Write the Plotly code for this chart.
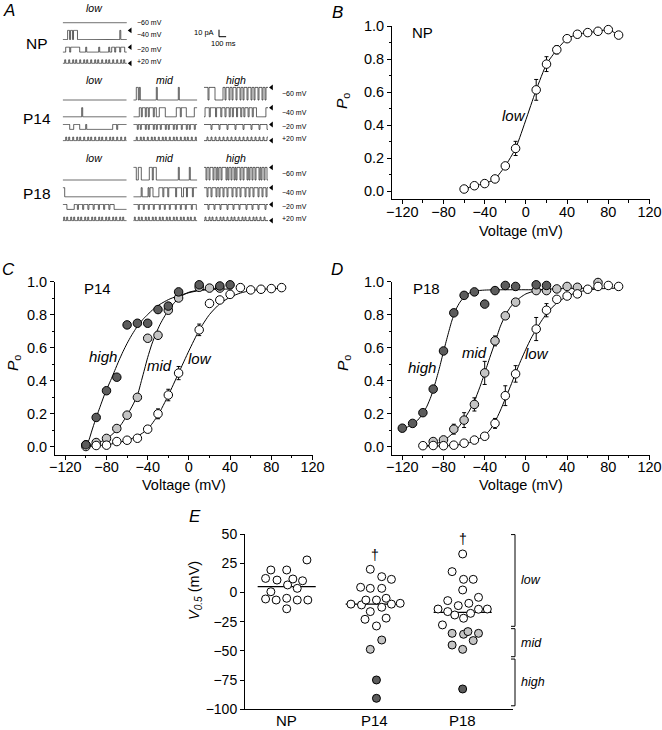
import plotly.graph_objects as go

W, H = 662, 730
FONT = "Liberation Sans, Arial, Helvetica, sans-serif"
INK = "#000000"
DARK_FILL = "#5c5c5c"
LIGHT_FILL = "#c4c4c4"
OPEN_FILL = "#ffffff"

# ================= DATA =================
# ---- Panel B : NP (low) ----
b_volt = [-60, -50, -40, -30, -20, -10, 10, 20, 30, 40, 50, 60, 70, 80, 90]
b_low = [0.012, 0.032, 0.045, 0.073, 0.152, 0.258, 0.613, 0.769, 0.856, 0.923, 0.950, 0.960, 0.968, 0.978, 0.945]
b_low_err = [0, 0, 0, 0, 0.015, 0.043, 0.063, 0.045, 0.025, 0, 0, 0, 0, 0, 0]

# ---- Panel C : P14 ----
c_high_volt = [-100, -90, -80, -70, -60, -50, -40, -30, -20, -10, 10, 30, 40]
c_high = [0.010, 0.176, 0.338, 0.420, 0.737, 0.747, 0.747, 0.830, 0.851, 0.937, 0.980, 0.973, 0.980]
c_mid_volt = [-100, -90, -80, -70, -60, -50, -40, -30, -20, -10, 10, 20, 30]
c_mid = [0.010, 0.024, 0.049, 0.109, 0.190, 0.298, 0.656, 0.674, 0.826, 0.900, 0.965, 0.960, 0.960]
c_low_volt = [-100, -90, -80, -70, -60, -50, -40, -30, -20, -10, 10, 20, 30, 40, 50, 60, 70, 80, 90]
c_low = [0.000, 0.006, 0.008, 0.030, 0.038, 0.050, 0.105, 0.198, 0.312, 0.445, 0.707, 0.867, 0.888, 0.922, 0.963, 0.949, 0.953, 0.957, 0.963]
c_low_err = [0, 0, 0, 0, 0, 0, 0, 0.030, 0.035, 0.040, 0.035, 0.015, 0, 0, 0, 0, 0, 0, 0]

c_fit_high_volt = [-100, -97, -94, -91, -86, -81, -76, -72, -68, -64, -60, -56, -52, -48, -44, -40, -34, -28, -20, -12, 0, 10, 25, 42]
c_fit_high = [0.0, 0.04, 0.10, 0.157, 0.245, 0.33, 0.40, 0.46, 0.52, 0.575, 0.625, 0.67, 0.71, 0.745, 0.775, 0.80, 0.835, 0.862, 0.89, 0.91, 0.932, 0.945, 0.952, 0.955]
c_fit_mid_volt = [-100, -90, -80, -70, -65, -60, -55, -50, -46, -43, -40, -36, -32, -28, -24, -20, -15, -9, 0, 10, 20, 30]
c_fit_mid = [0.0, 0.018, 0.045, 0.10, 0.14, 0.19, 0.245, 0.31, 0.40, 0.47, 0.54, 0.62, 0.685, 0.74, 0.785, 0.825, 0.865, 0.905, 0.935, 0.948, 0.955, 0.957]
c_fit_low_volt = [-100, -90, -80, -70, -60, -50, -40, -30, -20, -10, 0, 10, 20, 30, 40, 50, 60, 70, 80, 90]
c_fit_low = [0.0, 0.004, 0.01, 0.022, 0.038, 0.062, 0.105, 0.19, 0.31, 0.445, 0.58, 0.705, 0.80, 0.865, 0.905, 0.93, 0.945, 0.952, 0.956, 0.958]

# ---- Panel D : P18 ----
d_high_volt = [-120, -110, -100, -90, -80, -70, -60, -50, -40, -30, -20, -10, 10, 20]
d_high = [0.111, 0.140, 0.205, 0.348, 0.579, 0.810, 0.916, 0.937, 0.863, 0.945, 0.976, 0.970, 0.980, 0.976]
d_mid_volt = [-90, -80, -70, -60, -50, -40, -30, -20, -10, 10, 20, 30, 40, 50, 70]
d_mid = [0.030, 0.040, 0.105, 0.160, 0.255, 0.446, 0.640, 0.792, 0.875, 0.945, 0.945, 0.955, 0.970, 0.965, 0.994]
d_mid_err = [0, 0, 0.030, 0.045, 0.040, 0.070, 0.030, 0, 0, 0, 0, 0, 0, 0, 0]
d_low_volt = [-100, -90, -80, -70, -60, -50, -40, -30, -20, -10, 10, 20, 30, 40, 50, 60, 70, 80, 90]
d_low = [0.005, 0.006, 0.005, 0.008, 0.020, 0.039, 0.062, 0.140, 0.308, 0.440, 0.712, 0.826, 0.892, 0.912, 0.925, 0.953, 0.970, 0.976, 0.970]
d_low_err = [0, 0, 0, 0, 0, 0, 0, 0.030, 0.060, 0.050, 0.070, 0.040, 0.010, 0, 0, 0, 0, 0, 0]

d_fit_high_volt = [-120, -115, -110, -105, -100, -96, -92, -88, -84, -80, -76, -72, -68, -64, -60, -55, -50, -40, -20, 0, 20]
d_fit_high = [0.105, 0.118, 0.135, 0.16, 0.20, 0.245, 0.305, 0.385, 0.475, 0.575, 0.67, 0.76, 0.83, 0.875, 0.905, 0.93, 0.942, 0.948, 0.95, 0.95, 0.95]
d_fit_mid_volt = [-100, -90, -80, -70, -65, -60, -55, -50, -45, -40, -35, -30, -25, -20, -15, -10, -5, 0, 10, 20, 40, 70]
d_fit_mid = [0.0, 0.012, 0.035, 0.085, 0.12, 0.165, 0.215, 0.275, 0.355, 0.445, 0.54, 0.63, 0.725, 0.795, 0.845, 0.88, 0.905, 0.925, 0.945, 0.953, 0.958, 0.96]
d_fit_low_volt = [-100, -80, -70, -60, -50, -40, -35, -30, -25, -20, -15, -10, -5, 0, 5, 10, 15, 20, 30, 40, 50, 60, 70, 80, 90]
d_fit_low = [0.003, 0.004, 0.007, 0.015, 0.033, 0.068, 0.10, 0.15, 0.215, 0.29, 0.365, 0.445, 0.52, 0.59, 0.655, 0.71, 0.76, 0.805, 0.87, 0.91, 0.935, 0.948, 0.955, 0.958, 0.96]

# ---- Panel E : V0.5 scatter ----
e_groups = ["NP", "P14", "P18"]
e_np_low = [27.8, 19.2, 19.2, 12.0, 10.6, 11.5, 10.0, 0.6, 6.4, 3.5, -5.6, -6.5, -5.0, -6.5, -6.5, -14.0]
e_np_low_dx = [0.23, -0.18, 0.0, -0.24, -0.11, 0.07, 0.18, -0.18, 0.01, 0.12, -0.24, -0.12, 0.0, 0.12, 0.24, 0.0]
e_p14_low = [19.8, 13.5, 11.2, 4.4, 3.5, 3.5, -10.0, -10.7, -6.5, -6.5, -5.0, -12.7, -10.0, -9.3, -16.4, -23.0, -22.0, -28.7]
e_p14_low_dx = [-0.05, 0.08, 0.19, -0.16, -0.05, 0.08, -0.27, -0.15, -0.10, 0.02, 0.13, 0.08, 0.19, 0.29, -0.05, -0.11, 0.13, 0.02]
e_p14_mid = [-40.7, -48.7]
e_p14_mid_dx = [0.08, -0.05]
e_p14_high = [-74.9, -90.6]
e_p14_high_dx = [0.02, 0.02]
e_p18_low = [32.9, 17.8, 11.2, 11.2, 2.1, -7.0, -9.3, -4.2, -11.3, -14.2, -16.4, -19.3, -22.1, -17.9, -14.4, -14.2, -27.8]
e_p18_low_dx = [0.0, -0.12, 0.01, 0.12, 0.0, -0.17, 0.07, 0.18, -0.05, -0.28, -0.17, -0.09, 0.01, 0.09, 0.18, 0.28, -0.23]
e_p18_mid = [-35.0, -35.8, -33.5, -35.0, -41.2, -45.0, -48.7]
e_p18_mid_dx = [-0.12, 0.01, 0.06, 0.18, 0.12, -0.12, 0.0]
e_p18_high = [-82.6]
e_p18_high_dx = [0.0]
e_means = [5.0, -10.0, -17.0]
e_dagger_y = [None, 32.0, 45.7]
e_class_ranges = {"low": (49.5, -29.0), "mid": (-31.0, -55.0), "high": (-57.0, -97.0)}

# ---- Panel A : single-channel records (1 = open, 0 = closed; one char per time bin) ----
a_voltages = ["\u221260 mV", "\u221240 mV", "\u221220 mV", "+20 mV"]
a_row_offset_pA = [0, -24, -42, -53]
a_unitary_pA = [18, 13, 7, -5]
a_trace_ms = 900
a_scale_pA = 10
a_scale_ms = 100

np_low = [
    "0000000000000000000000000000000000000000000000000000000000000000",
    "00000110110111100000000000000000000000000000000000000000001000000",
    "0001111011111111100000010000000000001000000000100111011110111100",
    "1101110111011011101110110111011101101110111011011101110111011011",
]
p14_low = [
    "0000000000000000000000000000000000000000000000000000000000000000",
    "0000000000000000000100000000000000000000000000000000000000000000",
    "1111111000011111100000010000000000000000000000000011110111111111",
    "1110110111011101101110111011011101110110111011101101110111011101",
]
p14_mid = [
    "0001101000000000000000010000000000000000000001000000000000000000",
    "0000001101110110111101100011111100000000000111101111100000000111",
    "1111011011110110111101101110111101101111011011110111101101111011",
    "1110111011011101110110111011101101110111011011101110110111011101",
]
p14_high = [
    "1111011111100000000110111011011101110110111011101101110111011011",
    "0111101111101111011101110110111011101101110111011100000000011",
    "1111111011111110111111101111111011111110111111101111111011111110",
    "1110111011101110111011101110111011101110111011101110111011101110",
]
p18_low = [
    "0000000000000000000000000000000000000000000000000000000000000000",
    "1100000000000000000000000000000000000000000000000000000000000000",
    "1111000000011101111011110111101111011110111101111000000000000",
    "1011011101101110110111011011101101110110111011011101101110110111",
]
p18_mid = [
    "1110011100000000111011100000000000000000000001000000000010000000",
    "00000000100000010111000000111101111011111110111110011101111101111",
    "1111101111011110111101111101111011110111110111101111011111011110",
    "1011101101110110111011011101101110110111011011101101110110111011",
]
p18_high = [
    "1101101110110101101111010110110101110110111010110110111010110110",
    "1110111011110110111011101111011101110111101110111011110111011101",
    "1111011111011111011111101111101111101111110111110111110111111011",
    "1011101101110111011011101110110111011101101110111011011101110111",
]

# ================= LAYOUT HELPERS =================
fig = go.Figure()
lay = dict(template="none", width=W, height=H, autosize=False, margin=dict(l=0, r=0, t=0, b=0, pad=0),
           paper_bgcolor="white", plot_bgcolor="rgba(0,0,0,0)", showlegend=False,
           font=dict(family=FONT, color=INK, size=12))
annotations = []
shapes = []


def pxx(x):
    return x / W


def pxy(y):
    return 1 - y / H


def label(x, y, s, size, xanchor="center", yanchor="middle", angle=0, xref="paper", yref="paper"):
    annotations.append(dict(x=x, y=y, xref=xref, yref=yref, text=s, showarrow=False,
                            font=dict(size=size, family=FONT, color=INK),
                            xanchor=xanchor, yanchor=yanchor, textangle=angle))


TICKF = dict(size=14.5, family=FONT, color=INK)


def iv_axes(n, left_px, top_px):
    s = "" if n == 1 else str(n)
    lay["xaxis" + s] = dict(
        domain=[pxx(left_px), pxx(left_px + 257.5)], anchor="y" + s, range=[-130, 120],
        automargin=False,
        tickmode="array", tickvals=[-120, -80, -40, 0, 40, 80, 120],
        ticktext=["\u2212120", "\u221280", "\u221240", "0", "40", "80", "120"],
        ticks="outside", ticklen=4, tickwidth=1, tickcolor=INK, ticklabelstandoff=-5,
        showline=True, linecolor=INK, linewidth=1, showgrid=False, zeroline=False,
        tickfont=TICKF,
        minor=dict(ticks="outside", ticklen=2.5, tickwidth=1, tickcolor=INK,
                   tickmode="array", tickvals=[-100, -60, -20, 20, 60, 100], showgrid=False))
    lay["yaxis" + s] = dict(
        domain=[pxy(top_px + 173.25), pxy(top_px)], anchor="x" + s, range=[-0.05, 1.0],
        automargin=False,
        tickmode="array", tickvals=[0, 0.2, 0.4, 0.6, 0.8, 1.0],
        ticktext=["0.0", "0.2", "0.4", "0.6", "0.8", "1.0"],
        ticks="outside", ticklen=4, tickwidth=1, tickcolor=INK,
        showline=True, linecolor=INK, linewidth=1, showgrid=False, zeroline=False,
        tickfont=TICKF,
        minor=dict(ticks="outside", ticklen=2.5, tickwidth=1, tickcolor=INK,
                   tickmode="array", tickvals=[0.1, 0.3, 0.5, 0.7, 0.9], showgrid=False))
    return ("x" + s, "y" + s)


def add_curve(ax, xs, ys):
    fig.add_trace(go.Scatter(x=xs, y=ys, mode="lines", xaxis=ax[0], yaxis=ax[1],
                             line=dict(color=INK, width=1, shape="spline", smoothing=0.6),
                             hoverinfo="skip"))


def add_points(ax, xs, ys, fill, err=None, size=8.5):
    kw = {}
    if err is not None:
        kw["error_y"] = dict(type="data", array=err, visible=True, color=INK, thickness=1, width=2)
    fig.add_trace(go.Scatter(x=xs, y=ys, mode="markers", xaxis=ax[0], yaxis=ax[1],
                             marker=dict(size=size, color=fill, line=dict(color=INK, width=1)),
                             cliponaxis=False, **kw))


# ================= PANEL B =================
axB = iv_axes(1, 392, 26)
fig.add_trace(go.Scatter(x=b_volt, y=b_low, mode="lines+markers", xaxis=axB[0], yaxis=axB[1],
                         line=dict(color=INK, width=1, shape="spline", smoothing=0.5),
                         marker=dict(size=8.5, color=OPEN_FILL, line=dict(color=INK, width=1)),
                         error_y=dict(type="data", array=b_low_err, visible=True, color=INK, thickness=1, width=2),
                         cliponaxis=False))
label(-113, 0.96, "NP", 15, xanchor="left", xref=axB[0], yref=axB[1])
label(-12, 0.46, "<i>low</i>", 15, xref=axB[0], yref=axB[1])

# ================= PANEL C =================
axC = iv_axes(2, 55, 281.5)
add_curve(axC, c_fit_high_volt, c_fit_high)
add_curve(axC, c_fit_mid_volt, c_fit_mid)
add_curve(axC, c_fit_low_volt, c_fit_low)
add_points(axC, c_mid_volt, c_mid, LIGHT_FILL)
add_points(axC, c_low_volt, c_low, OPEN_FILL, c_low_err)
add_points(axC, c_high_volt, c_high, DARK_FILL)
label(-104, 0.96, "P14", 15, xanchor="left", xref=axC[0], yref=axC[1])
label(-83, 0.547, "<i>high</i>", 15, xref=axC[0], yref=axC[1])
label(-29, 0.492, "<i>mid</i>", 15, xref=axC[0], yref=axC[1])
label(11, 0.535, "<i>low</i>", 15, xref=axC[0], yref=axC[1])

# ================= PANEL D =================
axD = iv_axes(3, 392, 281.5)
add_curve(axD, d_fit_high_volt, d_fit_high)
add_curve(axD, d_fit_mid_volt, d_fit_mid)
add_curve(axD, d_fit_low_volt, d_fit_low)
add_points(axD, d_mid_volt, d_mid, LIGHT_FILL, d_mid_err)
add_points(axD, d_low_volt, d_low, OPEN_FILL, d_low_err)
add_points(axD, d_high_volt, d_high, DARK_FILL)
label(-112, 0.96, "P18", 15, xanchor="left", xref=axD[0], yref=axD[1])
label(-101, 0.477, "<i>high</i>", 15, xref=axD[0], yref=axD[1])
label(-50, 0.571, "<i>mid</i>", 15, xref=axD[0], yref=axD[1])
label(11, 0.565, "<i>low</i>", 15, xref=axD[0], yref=axD[1])

# axis titles for B, C, D
for (cx, cy) in [(521, 231), (184, 485), (521, 485)]:
    label(pxx(cx), pxy(cy), "Voltage (mV)", 14.5)
for (cx, cy) in [(343, 101), (13, 363), (343, 363)]:
    label(pxx(cx), pxy(cy), "<i>P</i><sub>o</sub>", 15.5, angle=-90)

# ================= PANEL E =================
E_L, E_R, E_T, E_B = 245, 513, 534, 709.3
lay["xaxis4"] = dict(domain=[pxx(E_L), pxx(E_R)], anchor="y4", range=[0.526, 3.572],
                     automargin=False, showticklabels=False, ticks="",
                     showline=True, linecolor=INK, linewidth=1, showgrid=False, zeroline=False)
lay["yaxis4"] = dict(domain=[pxy(E_B), pxy(E_T)], anchor="x4", range=[-100, 50],
                     automargin=False,
                     tickmode="array", tickvals=[-100, -75, -50, -25, 0, 25, 50],
                     ticks="outside", ticklen=4, tickwidth=1, tickcolor=INK,
                     showline=True, linecolor=INK, linewidth=1, showgrid=False, zeroline=False,
                     tickfont=dict(size=14, family=FONT, color=INK))
axE = ("x4", "y4")
for gi, g in enumerate(e_groups):
    label(gi + 1, pxy(720), g, 15, xref="x4", yref="paper")
e_sets = [
    (1, e_np_low, e_np_low_dx, OPEN_FILL),
    (2, e_p14_low, e_p14_low_dx, OPEN_FILL),
    (2, e_p14_mid, e_p14_mid_dx, LIGHT_FILL),
    (2, e_p14_high, e_p14_high_dx, DARK_FILL),
    (3, e_p18_low, e_p18_low_dx, OPEN_FILL),
    (3, e_p18_mid, e_p18_mid_dx, LIGHT_FILL),
    (3, e_p18_high, e_p18_high_dx, DARK_FILL),
]
for gi, m in enumerate(e_means):
    c = gi + 1
    fig.add_trace(go.Scatter(x=[c - 0.33, c + 0.33], y=[m, m], mode="lines", xaxis="x4", yaxis="y4",
                             line=dict(color=INK, width=1.3), hoverinfo="skip"))
for c, vals, dx, fill in e_sets:
    add_points(axE, [c + d for d in dx], vals, fill, size=8)
for gi, yv in enumerate(e_dagger_y):
    if yv is not None:
        label(gi + 1, yv, "\u2020", 14, xref="x4", yref="y4")
label(pxx(195), pxy(591), "<i>V</i><sub><i>0.5</i></sub> (mV)", 14.5, angle=-90)

BR_X = 515
for name, (ytop, ybot) in e_class_ranges.items():
    shapes.append(dict(type="line", xref="paper", yref="y4", x0=pxx(BR_X), x1=pxx(BR_X), y0=ytop, y1=ybot,
                       line=dict(color=INK, width=1)))
    for yy in (ytop, ybot):
        shapes.append(dict(type="line", xref="paper", yref="y4", x0=pxx(BR_X - 4), x1=pxx(BR_X), y0=yy, y1=yy,
                           line=dict(color=INK, width=1)))
    label(pxx(BR_X + 4), (ytop + ybot) / 2, "<i>%s</i>" % name, 12.5, xanchor="left", xref="paper", yref="y4")

# ================= PANEL A =================
PX_PER_MS = 64.0 / a_trace_ms
PX_PER_PA = 0.7
A_GROUPS = [
    dict(name="NP", base=22.7, label_y=8.3, name_y=43, lab_gap=8.3,
         arrows=[False, True, True, True], cols=[("low", 62.7, np_low)]),
    dict(name="P14", base=100.0, label_y=80, name_y=118, lab_gap=11.7,
         arrows=[True, True, True, True],
         cols=[("low", 62.7, p14_low), ("mid", 133.3, p14_mid), ("high", 204.0, p14_high)]),
    dict(name="P18", base=180.0, label_y=158.3, name_y=193, lab_gap=11.7,
         arrows=[True, True, True, True],
         cols=[("low", 62.7, p18_low), ("mid", 133.3, p18_mid), ("high", 204.0, p18_high)]),
]
EXTRA_MS = 80
n_ax = 5
for g in A_GROUPS:
    top_px, bot_px = g["base"] - 16, g["base"] + 44
    yr = [-(bot_px - g["base"]) / PX_PER_PA, (g["base"] - top_px) / PX_PER_PA]
    for ci, (cname, x0, pats) in enumerate(g["cols"]):
        last = ci == len(g["cols"]) - 1
        span_ms = a_trace_ms + (EXTRA_MS if last else 0)
        s = str(n_ax)
        lay["xaxis" + s] = dict(domain=[pxx(x0), pxx(x0 + span_ms * PX_PER_MS)], anchor="y" + s,
                                range=[0, span_ms], visible=False, automargin=False,
                                showgrid=False, zeroline=False)
        lay["yaxis" + s] = dict(domain=[pxy(bot_px), pxy(top_px)], anchor="x" + s,
                                range=yr, visible=False, automargin=False,
                                showgrid=False, zeroline=False)
        for ri, pat in enumerate(pats):
            n = len(pat)
            xs = [i * a_trace_ms / n for i in range(n + 1)]
            ys = [a_row_offset_pA[ri] + a_unitary_pA[ri] * int(ch) for ch in pat]
            ys.append(ys[-1])
            fig.add_trace(go.Scatter(x=xs, y=ys, mode="lines", xaxis="x" + s, yaxis="y" + s,
                                     line=dict(color="#202020", width=0.7, shape="hv"), hoverinfo="skip"))
        label(pxx(x0 + 32), pxy(g["label_y"]), "<i>%s</i>" % cname, 10.5)
        if last:
            ax_ = []
            ay_ = []
            for ri in range(4):
                if g["arrows"][ri]:
                    ax_.append(a_trace_ms + 50)
                    ay_.append(a_row_offset_pA[ri] + a_unitary_pA[ri])
                ly = a_row_offset_pA[ri] + (a_unitary_pA[ri] / 2 if g["arrows"][ri] else 0)
                label(pxx(x0 + 64 + g["lab_gap"]), ly, a_voltages[ri], 7,
                      xanchor="left", xref="paper", yref="y" + s)
            fig.add_trace(go.Scatter(x=ax_, y=ay_, mode="markers", xaxis="x" + s, yaxis="y" + s,
                                     marker=dict(symbol="triangle-left", size=5, color=INK, line=dict(width=0)),
                                     cliponaxis=False, hoverinfo="skip"))
        n_ax += 1
    label(pxx(36.7), pxy(g["name_y"]), g["name"], 15.5)

# scale bar
s = str(n_ax)
SB_L, SB_R, SB_T, SB_B = 205, 240, 25, 40
SB_X0, SB_Y0 = 219, 36.7
lay["xaxis" + s] = dict(domain=[pxx(SB_L), pxx(SB_R)], anchor="y" + s,
                        range=[-(SB_X0 - SB_L) / PX_PER_MS, (SB_R - SB_X0) / PX_PER_MS],
                        visible=False, automargin=False, showgrid=False, zeroline=False)
lay["yaxis" + s] = dict(domain=[pxy(SB_B), pxy(SB_T)], anchor="x" + s,
                        range=[-(SB_B - SB_Y0) / PX_PER_PA, (SB_Y0 - SB_T) / PX_PER_PA],
                        visible=False, automargin=False, showgrid=False, zeroline=False)
fig.add_trace(go.Scatter(x=[0, 0, a_scale_ms], y=[a_scale_pA, 0, 0], mode="lines",
                         xaxis="x" + s, yaxis="y" + s, line=dict(color=INK, width=1), hoverinfo="skip"))
label(pxx(216), pxy(33), "%d pA" % a_scale_pA, 7.5, xanchor="right")
label(pxx(223), pxy(43), "%d ms" % a_scale_ms, 7.5)

# panel letters
for ch, (cx, cy) in zip("ABCDE", [(9, 11), (337, 12), (8, 270), (337, 270), (195, 516)]):
    label(pxx(cx), pxy(cy), "<i>%s</i>" % ch, 17)

lay["annotations"] = annotations
lay["shapes"] = shapes
fig.update_layout(**lay)
fig.write_html("out.html", config={"displayModeBar": False, "responsive": False},
               post_script="document.body.style.margin='0';document.body.style.padding='0';"
                           "document.body.style.overflow='hidden';")
